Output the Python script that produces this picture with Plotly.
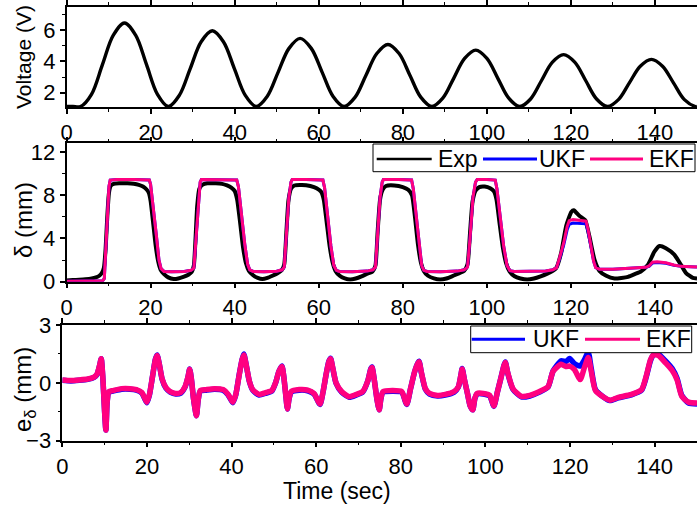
import plotly.graph_objects as go

W, H = 697, 506
FONT = "Liberation Sans, Arial, sans-serif"
PINK = "#ff0080"
BLUE = "#0000ff"

# ---- top panel: applied voltage ----
volt_t = [0, 1.5, 3.3, 5.9, 8.5, 11.1, 13.75, 16.4, 19.0, 21.6,
          24.2, 26.8, 29.4, 32.0, 34.65, 37.3, 39.9, 42.5,
          45.1, 47.7, 50.3, 52.9, 55.55, 58.2, 60.8, 63.4,
          66.0, 68.6, 71.2, 73.8, 76.45, 79.1, 81.7, 84.3,
          86.9, 89.5, 92.1, 94.7, 97.35, 100.0, 102.6, 105.2,
          107.8, 110.4, 113.0, 115.6, 118.25, 120.9, 123.5, 126.1,
          128.7, 131.3, 133.9, 136.5, 139.15, 141.8, 144.4, 147.0,
          149.6, 150]
volt_v = [1.12, 1.12, 1.12, 1.90, 3.79, 5.67, 6.45, 5.67, 3.79, 1.90,
          1.12, 1.83, 3.54, 5.25, 5.95, 5.25, 3.54, 1.83,
          1.12, 1.76, 3.30, 4.83, 5.47, 4.83, 3.30, 1.76,
          1.12, 1.70, 3.10, 4.50, 5.08, 4.50, 3.10, 1.70,
          1.12, 1.65, 2.92, 4.19, 4.72, 4.19, 2.92, 1.65,
          1.12, 1.60, 2.78, 3.95, 4.43, 3.95, 2.78, 1.60,
          1.12, 1.56, 2.63, 3.69, 4.13, 3.69, 2.63, 1.56,
          1.12, 1.12]

# ---- middle panel: measured displacement ----
exp_t = [0, 1.5, 3, 4.5, 6, 7, 7.8, 8.4, 8.9, 9.3,
         9.7, 10.1, 10.5, 11.2, 12.5, 14.5, 16.0, 17.2, 18.2, 19.0,
         19.6, 20.0, 20.6, 21.2, 21.8, 22.4, 23.2, 24.2, 25.5, 26.6,
         27.8, 29.0, 29.8, 30.3, 30.7, 31.1, 31.6, 32.3, 33.5, 35.5,
         37.0, 38.2, 39.2, 40.0, 40.6, 41.3, 42.0, 42.7, 43.4, 44.4,
         45.5, 46.6, 47.8, 49.0, 50.3, 51.2, 51.8, 52.3, 52.8, 53.4,
         54.2, 56.0, 58.0, 59.5, 60.6, 61.2, 61.9, 62.6, 63.3, 64.0,
         65.0, 66.2, 67.5, 68.8, 70.2, 71.6, 72.8, 73.5, 74.0, 74.6,
         75.2, 76.0, 78.0, 80.0, 81.3, 82.2, 82.9, 83.6, 84.3, 85.0,
         86.0, 87.4, 88.9, 90.4, 92.0, 93.5, 94.6, 95.4, 96.0, 96.6,
         97.3, 98.2, 99.5, 100.8, 101.7, 102.3, 103.0, 103.8, 104.6, 105.4,
         106.6, 108.0, 109.6, 111.2, 112.8, 114.4, 115.7, 116.5, 117.7, 118.9,
         120.1, 120.7, 122.0, 123.4, 124.4, 125.6, 126.8, 128.4, 130.4, 132.0,
         133.6, 135.2, 136.7, 138.3, 139.9, 141.1, 142.6, 144.6, 146.2, 147.4,
         149.0, 150.0]
exp_d = [0.12, 0.15, 0.18, 0.22, 0.3, 0.4, 0.55, 0.8, 1.3, 3.0,
         6.0, 8.2, 8.85, 9.05, 9.1, 9.1, 9.05, 8.95, 8.8, 8.55,
         8.2, 7.5, 5.5, 3.4, 1.9, 1.1, 0.7, 0.4, 0.25, 0.3,
         0.45, 0.65, 0.9, 1.5, 4.0, 7.0, 8.6, 8.95, 9.1, 9.1,
         9.05, 8.9, 8.7, 8.4, 7.6, 5.5, 3.2, 1.7, 1.0, 0.6,
         0.35, 0.25, 0.35, 0.55, 0.8, 1.05, 1.6, 4.5, 7.5, 8.6,
         8.9, 8.95, 8.85, 8.65, 8.3, 7.6, 5.5, 3.3, 1.8, 1.0,
         0.55, 0.3, 0.2, 0.3, 0.5, 0.75, 0.95, 1.5, 4.5, 7.6,
         8.5, 8.85, 8.9, 8.75, 8.5, 8.0, 6.0, 3.5, 1.8, 1.0,
         0.55, 0.3, 0.2, 0.3, 0.55, 0.8, 1.0, 1.6, 4.5, 7.4,
         8.4, 8.75, 8.8, 8.65, 8.35, 7.6, 5.5, 3.2, 1.7, 0.95,
         0.5, 0.3, 0.2, 0.3, 0.5, 0.75, 1.0, 1.25, 2.7, 5.2,
         6.45, 6.6, 6.1, 5.7, 4.2, 2.05, 1.0, 0.55, 0.3, 0.35,
         0.45, 0.7, 0.95, 1.55, 2.8, 3.3, 3.1, 2.5, 1.55, 0.8,
         0.35, 0.3]

# ---- middle panel: filter estimates ----
kf_t = [0, 4, 8.6, 9.0, 9.6, 10.1, 10.4, 12, 16, 19.7,
        20.0, 20.7, 21.4, 22.0, 22.5, 23.2, 25, 28, 29.6, 30.3,
        30.8, 31.4, 31.8, 32.1, 36, 40.5, 40.9, 41.6, 42.4, 43.1,
        43.6, 44.4, 47, 50, 51.3, 51.8, 52.3, 52.9, 53.4, 53.7,
        57, 61.0, 61.4, 62.1, 62.9, 63.6, 64.2, 64.9, 68, 71.5,
        72.9, 73.5, 74.0, 74.6, 75.1, 75.4, 79, 82.1, 82.5, 83.2,
        83.9, 84.5, 85.0, 85.8, 89, 93, 94.6, 95.4, 96.0, 96.7,
        97.3, 97.7, 100, 102.0, 102.4, 103.2, 104.0, 104.8, 105.5, 106.5,
        110, 114, 115.7, 116.6, 117.3, 118.3, 119.1, 119.6, 120.5, 122,
        123.6, 124.1, 124.8, 125.4, 125.9, 126.8, 130, 134, 137.8, 138.6,
        139.4, 140.5, 142.6, 144.5, 146.2, 148.5, 150]
ekf_d = [0.05, 0.05, 0.08, 0.3, 4.5, 8.8, 9.4, 9.45, 9.45, 9.4,
         9.0, 6.8, 4.2, 2.0, 1.2, 0.95, 0.92, 0.95, 1.05, 1.25,
         4.0, 7.8, 9.2, 9.45, 9.45, 9.4, 8.8, 6.2, 3.5, 1.6,
         1.1, 0.95, 0.92, 0.97, 1.1, 1.35, 4.2, 7.8, 9.2, 9.45,
         9.45, 9.4, 8.7, 6.0, 3.3, 1.5, 1.05, 0.95, 0.93, 0.98,
         1.1, 1.35, 4.0, 7.8, 9.2, 9.45, 9.45, 9.4, 8.6, 6.0,
         3.2, 1.5, 1.05, 0.95, 0.93, 0.98, 1.1, 1.35, 4.0, 7.8,
         9.2, 9.45, 9.45, 9.4, 8.6, 6.0, 3.3, 1.5, 1.02, 0.95,
         0.95, 1.0, 1.1, 1.3, 2.2, 3.6, 5.1, 5.65, 5.75, 5.7,
         5.6, 4.8, 3.3, 1.9, 1.3, 1.15, 1.15, 1.25, 1.33, 1.45,
         1.8, 1.85, 1.75, 1.55, 1.42, 1.38, 1.35]
ukf_d = [0.05, 0.05, 0.08, 0.3, 4.5, 8.8, 9.4, 9.45, 9.45, 9.4,
         9.0, 6.8, 4.2, 2.0, 1.2, 0.95, 0.92, 0.95, 1.05, 1.25,
         4.0, 7.8, 9.2, 9.45, 9.45, 9.4, 8.8, 6.2, 3.5, 1.6,
         1.1, 0.95, 0.92, 0.97, 1.1, 1.35, 4.2, 7.8, 9.2, 9.45,
         9.45, 9.4, 8.7, 6.0, 3.3, 1.5, 1.05, 0.95, 0.93, 0.98,
         1.1, 1.35, 4.0, 7.8, 9.2, 9.45, 9.45, 9.4, 8.6, 6.0,
         3.2, 1.5, 1.05, 0.95, 0.93, 0.98, 1.1, 1.35, 4.0, 7.8,
         9.2, 9.45, 9.45, 9.4, 8.6, 6.0, 3.3, 1.5, 1.02, 0.95,
         0.95, 1.0, 1.1, 1.3, 2.1, 3.4, 4.8, 5.3, 5.42, 5.42,
         5.35, 4.6, 3.2, 1.9, 1.3, 1.15, 1.15, 1.25, 1.33, 1.42,
         1.72, 1.78, 1.7, 1.52, 1.42, 1.38, 1.35]

# ---- bottom panel: estimation error ----
err_t = [0, 2, 4, 6, 7.5, 8.2, 8.8, 9.2, 9.6, 10.0,
         10.3, 10.6, 11.0, 12, 14, 16, 17.5, 18.8, 19.5, 20.0,
         20.6, 21.3, 22.0, 22.4, 22.9, 23.6, 24.5, 25.5, 26.8, 28.0,
         29.0, 29.7, 30.1, 30.5, 31.0, 31.7, 32.1, 32.6, 34, 36,
         38, 39.2, 40.3, 41, 41.8, 42.5, 42.9, 43.4, 44.2, 45,
         46.5, 48.2, 49.5, 50.4, 51.2, 51.9, 52.3, 52.8, 53.2, 53.6,
         54.1, 56, 58, 59.5, 60.9, 61.6, 62.4, 63.0, 63.4, 63.9,
         64.7, 66.0, 67.8, 69.5, 71.0, 72.2, 72.9, 73.2, 73.7, 74.4,
         74.9, 75.3, 75.8, 78, 80.2, 81.4, 82.3, 83.3, 84.0, 84.3,
         84.9, 85.8, 86.8, 88.7, 90.5, 92.6, 93.6, 94.2, 94.5, 95.0,
         95.8, 96.4, 97.0, 97.5, 98.0, 99.5, 101.0, 102.0, 102.8, 103.6,
         104.4, 104.7, 105.3, 106.5, 108.5, 110.5, 112.8, 114.8, 116.0, 117.9,
         119.0, 119.9, 121.0, 122.4, 123.4, 124.3, 125.0, 126.0, 127.8, 129.4,
         131.4, 134.5, 136.9, 138.0, 139.0, 139.7, 140.9, 142.5, 144.1, 145.3,
         146.4, 148.0, 150]
ekf_e = [0.15, 0.12, 0.15, 0.2, 0.3, 0.45, 0.9, 1.25, 0.2, -1.5,
         -2.45, -1.0, -0.45, -0.4, -0.3, -0.3, -0.35, -0.5, -0.8, -1.0,
         -0.6, 0.3, 1.2, 1.42, 1.0, 0.2, -0.25, -0.45, -0.55, -0.5,
         -0.2, 0.3, 0.7, 0.2, -0.8, -1.7, -0.9, -0.4, -0.35, -0.3,
         -0.35, -0.6, -1.0, -0.6, 0.4, 1.2, 1.45, 1.0, 0.1, -0.35,
         -0.6, -0.5, -0.4, 0.0, 0.6, 0.85, 0.4, -0.6, -1.35, -0.8,
         -0.45, -0.35, -0.38, -0.55, -1.1, -0.5, 0.5, 1.1, 1.25, 0.8,
         0.0, -0.45, -0.72, -0.6, -0.45, 0.1, 0.7, 0.8, 0.2, -0.9,
         -1.4, -0.8, -0.45, -0.4, -0.45, -1.1, -0.3, 0.6, 1.0, 1.1,
         0.5, -0.3, -0.55, -0.65, -0.6, -0.45, -0.2, 0.4, 0.72, 0.2,
         -0.6, -1.2, -1.4, -0.8, -0.55, -0.55, -0.65, -1.2, -0.5, 0.2,
         0.9, 1.05, 0.5, -0.3, -0.7, -0.65, -0.45, -0.2, 0.6, 0.96,
         0.85, 0.87, 0.7, 0.17, 0.8, 1.31, 0.6, -0.4, -0.72, -0.9,
         -0.75, -0.6, -0.35, 0.35, 1.2, 1.45, 1.42, 1.05, 0.65, 0.15,
         -0.7, -1.0, -1.05]
ukf_e = [0.13, 0.1, 0.13, 0.18, 0.28, 0.43, 0.88, 1.25, 0.18, -1.5,
         -2.45, -1.0, -0.48, -0.43, -0.33, -0.33, -0.38, -0.53, -0.83, -1.03,
         -0.62, 0.3, 1.22, 1.45, 1.0, 0.18, -0.28, -0.48, -0.58, -0.53,
         -0.22, 0.3, 0.72, 0.2, -0.8, -1.7, -0.92, -0.43, -0.38, -0.33,
         -0.38, -0.63, -1.03, -0.62, 0.42, 1.22, 1.5, 1.0, 0.08, -0.38,
         -0.63, -0.53, -0.43, 0.0, 0.6, 0.88, 0.4, -0.6, -1.35, -0.82,
         -0.48, -0.38, -0.41, -0.58, -1.12, -0.5, 0.5, 1.12, 1.28, 0.78,
         -0.02, -0.48, -0.75, -0.63, -0.48, 0.1, 0.72, 0.82, 0.2, -0.9,
         -1.4, -0.82, -0.48, -0.43, -0.48, -1.12, -0.3, 0.6, 1.02, 1.12,
         0.48, -0.33, -0.58, -0.68, -0.63, -0.48, -0.22, 0.4, 0.74, 0.2,
         -0.6, -1.2, -1.4, -0.82, -0.58, -0.58, -0.68, -1.22, -0.5, 0.2,
         0.92, 1.08, 0.48, -0.33, -0.73, -0.68, -0.48, -0.22, 0.62, 1.14,
         1.1, 1.26, 1.0, 0.87, 1.2, 1.58, 0.75, -0.35, -0.72, -0.92,
         -0.78, -0.62, -0.38, 0.3, 1.15, 1.45, 1.48, 1.15, 0.75, 0.22,
         -0.65, -1.05, -1.1]

# ---- axis ticks ----
x_ticks = [0, 20, 40, 60, 80, 100, 120, 140]
x_minor = [10, 30, 50, 70, 90, 110, 130, 150]
volt_ticks = [2, 4, 6]
volt_minor = [1, 3, 5, 7]
disp_ticks = [0, 4, 8, 12]
disp_minor = [2, 6, 10]
err_ticks = [-3, 0, 3]
err_minor = [-1.5, 1.5]


def px(x):
    return x / W


def py(y):
    return 1 - y / H


fig = go.Figure()
fig.add_trace(go.Scatter(x=volt_t, y=volt_v, mode="lines", xaxis="x", yaxis="y",
                         line=dict(color="black", width=3.4, shape="spline"),
                         showlegend=False, name="Voltage"))
fig.add_trace(go.Scatter(x=exp_t, y=exp_d, mode="lines", xaxis="x2", yaxis="y2",
                         line=dict(color="black", width=4, shape="spline", smoothing=0.5),
                         showlegend=False, name="Exp"))
fig.add_trace(go.Scatter(x=kf_t, y=ukf_d, mode="lines", xaxis="x2", yaxis="y2",
                         line=dict(color=BLUE, width=3), showlegend=False, name="UKF"))
fig.add_trace(go.Scatter(x=kf_t, y=ekf_d, mode="lines", xaxis="x2", yaxis="y2",
                         line=dict(color=PINK, width=3), showlegend=False, name="EKF"))
fig.add_trace(go.Scatter(x=err_t, y=ukf_e, mode="lines", xaxis="x3", yaxis="y3",
                         line=dict(color=BLUE, width=5.5, shape="spline", smoothing=0.6),
                         showlegend=False, name="UKF"))
fig.add_trace(go.Scatter(x=err_t, y=ekf_e, mode="lines", xaxis="x3", yaxis="y3",
                         line=dict(color=PINK, width=5.5, shape="spline", smoothing=0.6),
                         showlegend=False, name="EKF"))

tick_font = dict(family=FONT, size=22, color="black")


def xaxis(domain, anchor):
    return dict(domain=domain, anchor=anchor, range=[0, 150], tickvals=x_ticks,
                automargin=False,
                ticks="outside", ticklen=5, tickwidth=1.5, tickcolor="black",
                showline=True, linecolor="black", linewidth=1.5, mirror="ticks",
                showgrid=False, zeroline=False, tickfont=tick_font,
                minor=dict(tickvals=x_minor, ticks="outside", ticklen=3,
                           tickwidth=1, tickcolor="black"))


def yaxis(domain, anchor, rng, tv, mv):
    return dict(domain=domain, anchor=anchor, range=rng, tickvals=tv,
                automargin=False,
                ticks="outside", ticklen=5, tickwidth=1.5, tickcolor="black",
                showline=True, linecolor="black", linewidth=1.5, mirror="ticks",
                showgrid=False, zeroline=False, tickfont=tick_font,
                minor=dict(tickvals=mv, ticks="outside", ticklen=3,
                           tickwidth=1, tickcolor="black"))


fig.update_layout(
    width=W, height=H, margin=dict(l=0, r=0, t=0, b=0, autoexpand=False),
    paper_bgcolor="white", plot_bgcolor="white",
    font=dict(family=FONT, color="black"),
    xaxis=xaxis([px(66.7), 1], "y"),
    yaxis=yaxis([py(107.3), py(7)], "x", [1.07, 7.47], volt_ticks, volt_minor),
    xaxis2=xaxis([px(66.5), 1], "y2"),
    yaxis2=yaxis([py(281.7), py(143.3)], "x2", [0, 12.8], disp_ticks, disp_minor),
    xaxis3=xaxis([px(62.3), 1], "y3"),
    yaxis3=yaxis([py(440.7), py(325)], "x3", [-3, 3], err_ticks, err_minor),
)

# axis titles
titles = [
    ("Voltage (V)", 23, 57, 21, -90),
    ("δ (mm)", 24, 220, 24, -90),
    ("e<sub>δ</sub> (mm)", 24, 390, 24, -90),
    ("Time (sec)", 336.5, 491, 23, 0),
]
for text, x, y, size, ang in titles:
    fig.add_annotation(text=text, x=px(x), y=py(y), xref="paper", yref="paper",
                       showarrow=False, textangle=ang, xanchor="center", yanchor="middle",
                       font=dict(family=FONT, size=size, color="black"))

# legend boxes
legend_font = dict(family=FONT, size=23, color="black")


def legend_box(x0, x1, y0, y1, entries, yline):
    fig.add_shape(type="rect", xref="paper", yref="paper",
                  x0=px(x0), x1=px(x1), y0=py(y1), y1=py(y0),
                  line=dict(color="black", width=1), fillcolor="white", layer="above")
    for (lx0, lx1, tx, label, color, lw) in entries:
        fig.add_shape(type="line", xref="paper", yref="paper",
                      x0=px(lx0), x1=px(lx1), y0=py(yline), y1=py(yline),
                      line=dict(color=color, width=lw), layer="above")
        fig.add_annotation(text=label, x=px(tx), y=py(yline - 0.5), xref="paper", yref="paper",
                           showarrow=False, xanchor="left", yanchor="middle",
                           font=legend_font)


legend_box(373, 695, 144, 171.7, [
    (376.7, 431.7, 436, "Exp", "black", 2.5),
    (483, 537, 537, "UKF", BLUE, 3),
    (590, 643, 647, "EKF", PINK, 3),
], 159)
legend_box(470.7, 691.7, 326, 352.7, [
    (471.7, 525, 530.5, "UKF", BLUE, 3),
    (585, 640, 644, "EKF", PINK, 3),
], 339.3)

fig.write_html("out.html")
